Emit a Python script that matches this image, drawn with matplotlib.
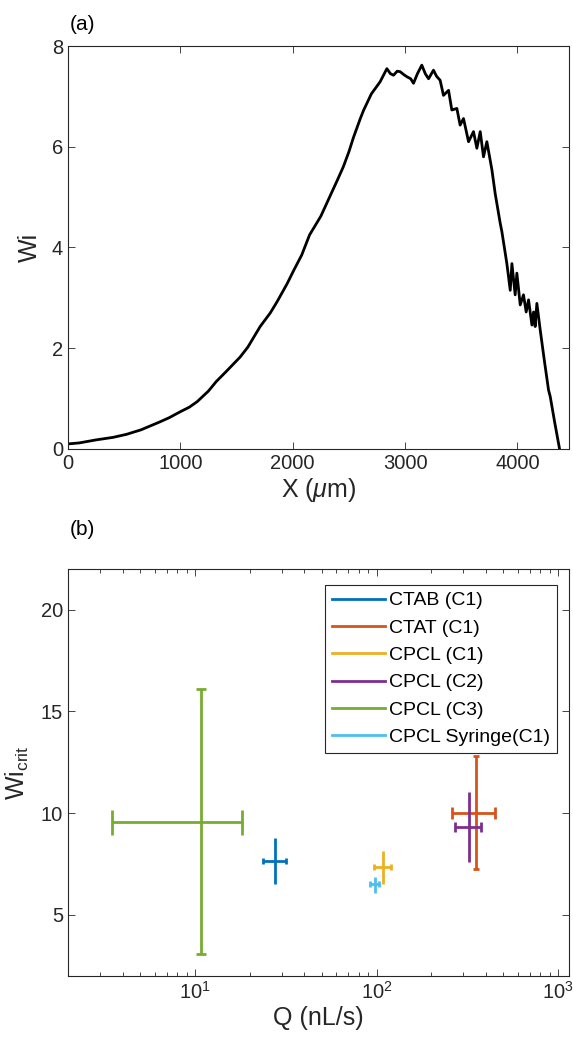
import numpy as np
import matplotlib.pyplot as plt
from matplotlib.lines import Line2D
from matplotlib.ticker import FixedLocator, FixedFormatter, LogLocator, NullFormatter

plt.rcParams['font.family'] = ['Liberation Sans', 'DejaVu Sans']
plt.rcParams['mathtext.fontset'] = 'custom'
plt.rcParams['mathtext.rm'] = 'Liberation Sans'
plt.rcParams['mathtext.it'] = 'Liberation Sans:italic'

# panel (a): Wi along the channel
x_um = [0, 100, 250, 400, 520, 650, 820, 900, 1000, 1080, 1150, 1250, 1320, 1400,
        1530, 1600, 1710, 1800, 1860, 1950, 2010, 2080, 2150, 2250, 2330, 2400,
        2450, 2500, 2540, 2600, 2630, 2700, 2778, 2838, 2870, 2897, 2930, 2956,
        2990, 3016, 3050, 3075, 3110, 3149, 3180, 3209, 3253, 3280, 3312, 3342,
        3387, 3416, 3461, 3490, 3520, 3565, 3609, 3639, 3669, 3698, 3728, 3773,
        3802, 3847, 3862, 3906, 3936, 3951, 3980, 3995, 4025, 4054, 4078, 4099,
        4129, 4144, 4158, 4173, 4203, 4240, 4277, 4292, 4330, 4366, 4375]
wi = [0.10, 0.12, 0.18, 0.23, 0.29, 0.38, 0.54, 0.62, 0.74, 0.83, 0.94, 1.15, 1.34, 1.52,
      1.82, 2.02, 2.43, 2.70, 2.92, 3.28, 3.55, 3.85, 4.25, 4.62, 5.01, 5.35,
      5.60, 5.90, 6.18, 6.55, 6.72, 7.05, 7.29, 7.55, 7.45, 7.42, 7.50, 7.49,
      7.43, 7.39, 7.35, 7.26, 7.45, 7.62, 7.45, 7.35, 7.52, 7.40, 7.32, 7.02,
      7.12, 6.73, 6.76, 6.43, 6.56, 6.10, 6.30, 5.97, 6.30, 5.80, 6.10, 5.54,
      5.07, 4.48, 4.31, 3.68, 3.15, 3.68, 3.06, 3.49, 2.86, 3.06, 2.72, 2.96,
      2.46, 2.72, 2.43, 2.89, 2.36, 1.75, 1.17, 1.04, 0.55, 0.11, 0.0]

# panel (b): critical Wi vs flow rate
names = ['CTAB (C1)', 'CTAT (C1)', 'CPCL (C1)', 'CPCL (C2)', 'CPCL (C3)', 'CPCL Syringe(C1)']
q = [27.7, 352, 108.6, 323, 10.8, 98]
q_lo = [23.8, 260, 97, 272, 3.48, 91.8]
q_hi = [31.9, 447, 120, 378, 18.1, 103.7]
wic = [7.66, 10.03, 7.34, 9.31, 9.57, 6.52]
wic_lo = [6.53, 7.27, 6.52, 7.61, 3.09, 6.10]
wic_hi = [8.76, 12.79, 8.15, 11.02, 16.09, 6.88]

colors = ['#0072BD', '#D95319', '#EDB120', '#7E2F8E', '#77AC30', '#4DBEEE']
xcap = [2.5, 4.5, 2.5, 3.5, 9, 2]
ycap = [0, 2, 0, 0, 3.5, 0]

axcol = '#262626'
fig = plt.figure(figsize=(5.73, 10.48), dpi=100)
ax1 = fig.add_axes([0.1187, 0.5716, 0.8745, 0.3845])
ax2 = fig.add_axes([0.1187, 0.0687, 0.8745, 0.3884])

def style(ax):
    for s in ax.spines.values():
        s.set_color(axcol)
        s.set_linewidth(0.8)
    ax.tick_params(which='both', direction='in', top=True, right=True,
                   colors=axcol, labelsize=14.5, width=0.6)
    ax.tick_params(which='major', length=5)
    ax.tick_params(which='minor', length=3)

ax1.plot(x_um, wi, color='black', lw=2)
ax1.set_xlim(0, 4460)
ax1.set_ylim(0, 8)
ax1.set_xticks([0, 1000, 2000, 3000, 4000])
ax1.set_yticks([0, 2, 4, 6, 8])
ax1.set_xlabel(r'X ($\mu$m)', fontsize=18, color=axcol, labelpad=2)
ax1.set_ylabel('Wi', fontsize=18, color=axcol, labelpad=7)
style(ax1)

for i in range(len(names)):
    xe = [[q[i] - q_lo[i]], [q_hi[i] - q[i]]]
    ye = [[wic[i] - wic_lo[i]], [wic_hi[i] - wic[i]]]
    ax2.errorbar([q[i]], [wic[i]], xerr=xe, color=colors[i], lw=2,
                 capsize=xcap[i], capthick=2, fmt='none', label=names[i])
    ax2.errorbar([q[i]], [wic[i]], yerr=ye, color=colors[i], lw=2,
                 capsize=ycap[i], capthick=2, fmt='none')

ax2.set_xscale('log')
ax2.set_xlim(2, 1150)
ax2.set_ylim(2, 22)
ax2.set_yticks([5, 10, 15, 20])
ax2.xaxis.set_major_locator(FixedLocator([10, 100, 1000]))
ax2.xaxis.set_major_formatter(FixedFormatter([r'$10^{1}$', r'$10^{2}$', r'$10^{3}$']))
ax2.xaxis.set_minor_locator(LogLocator(base=10, subs=np.arange(2, 10)))
ax2.xaxis.set_minor_formatter(NullFormatter())
ax2.set_xlabel('Q (nL/s)', fontsize=18, color=axcol, labelpad=2)
ax2.set_ylabel(r'Wi$_{\rm crit}$', fontsize=18, color=axcol, labelpad=7)
style(ax2)

handles = [Line2D([], [], color=c, lw=2) for c in colors]
leg = ax2.legend(handles, names, loc='upper right', bbox_to_anchor=(0.9754, 0.9607),
                 borderaxespad=0, fontsize=14, fancybox=False, framealpha=1,
                 edgecolor=axcol, handlelength=2.75, handletextpad=0.2,
                 labelspacing=0.5, borderpad=0.35)
leg.get_frame().set_linewidth(0.8)

fig.text(0.122, 0.977, '(a)', fontsize=15, color='black', va='center')
fig.text(0.122, 0.4945, '(b)', fontsize=15, color='black', va='center')

fig.savefig('out.png', dpi=100)
